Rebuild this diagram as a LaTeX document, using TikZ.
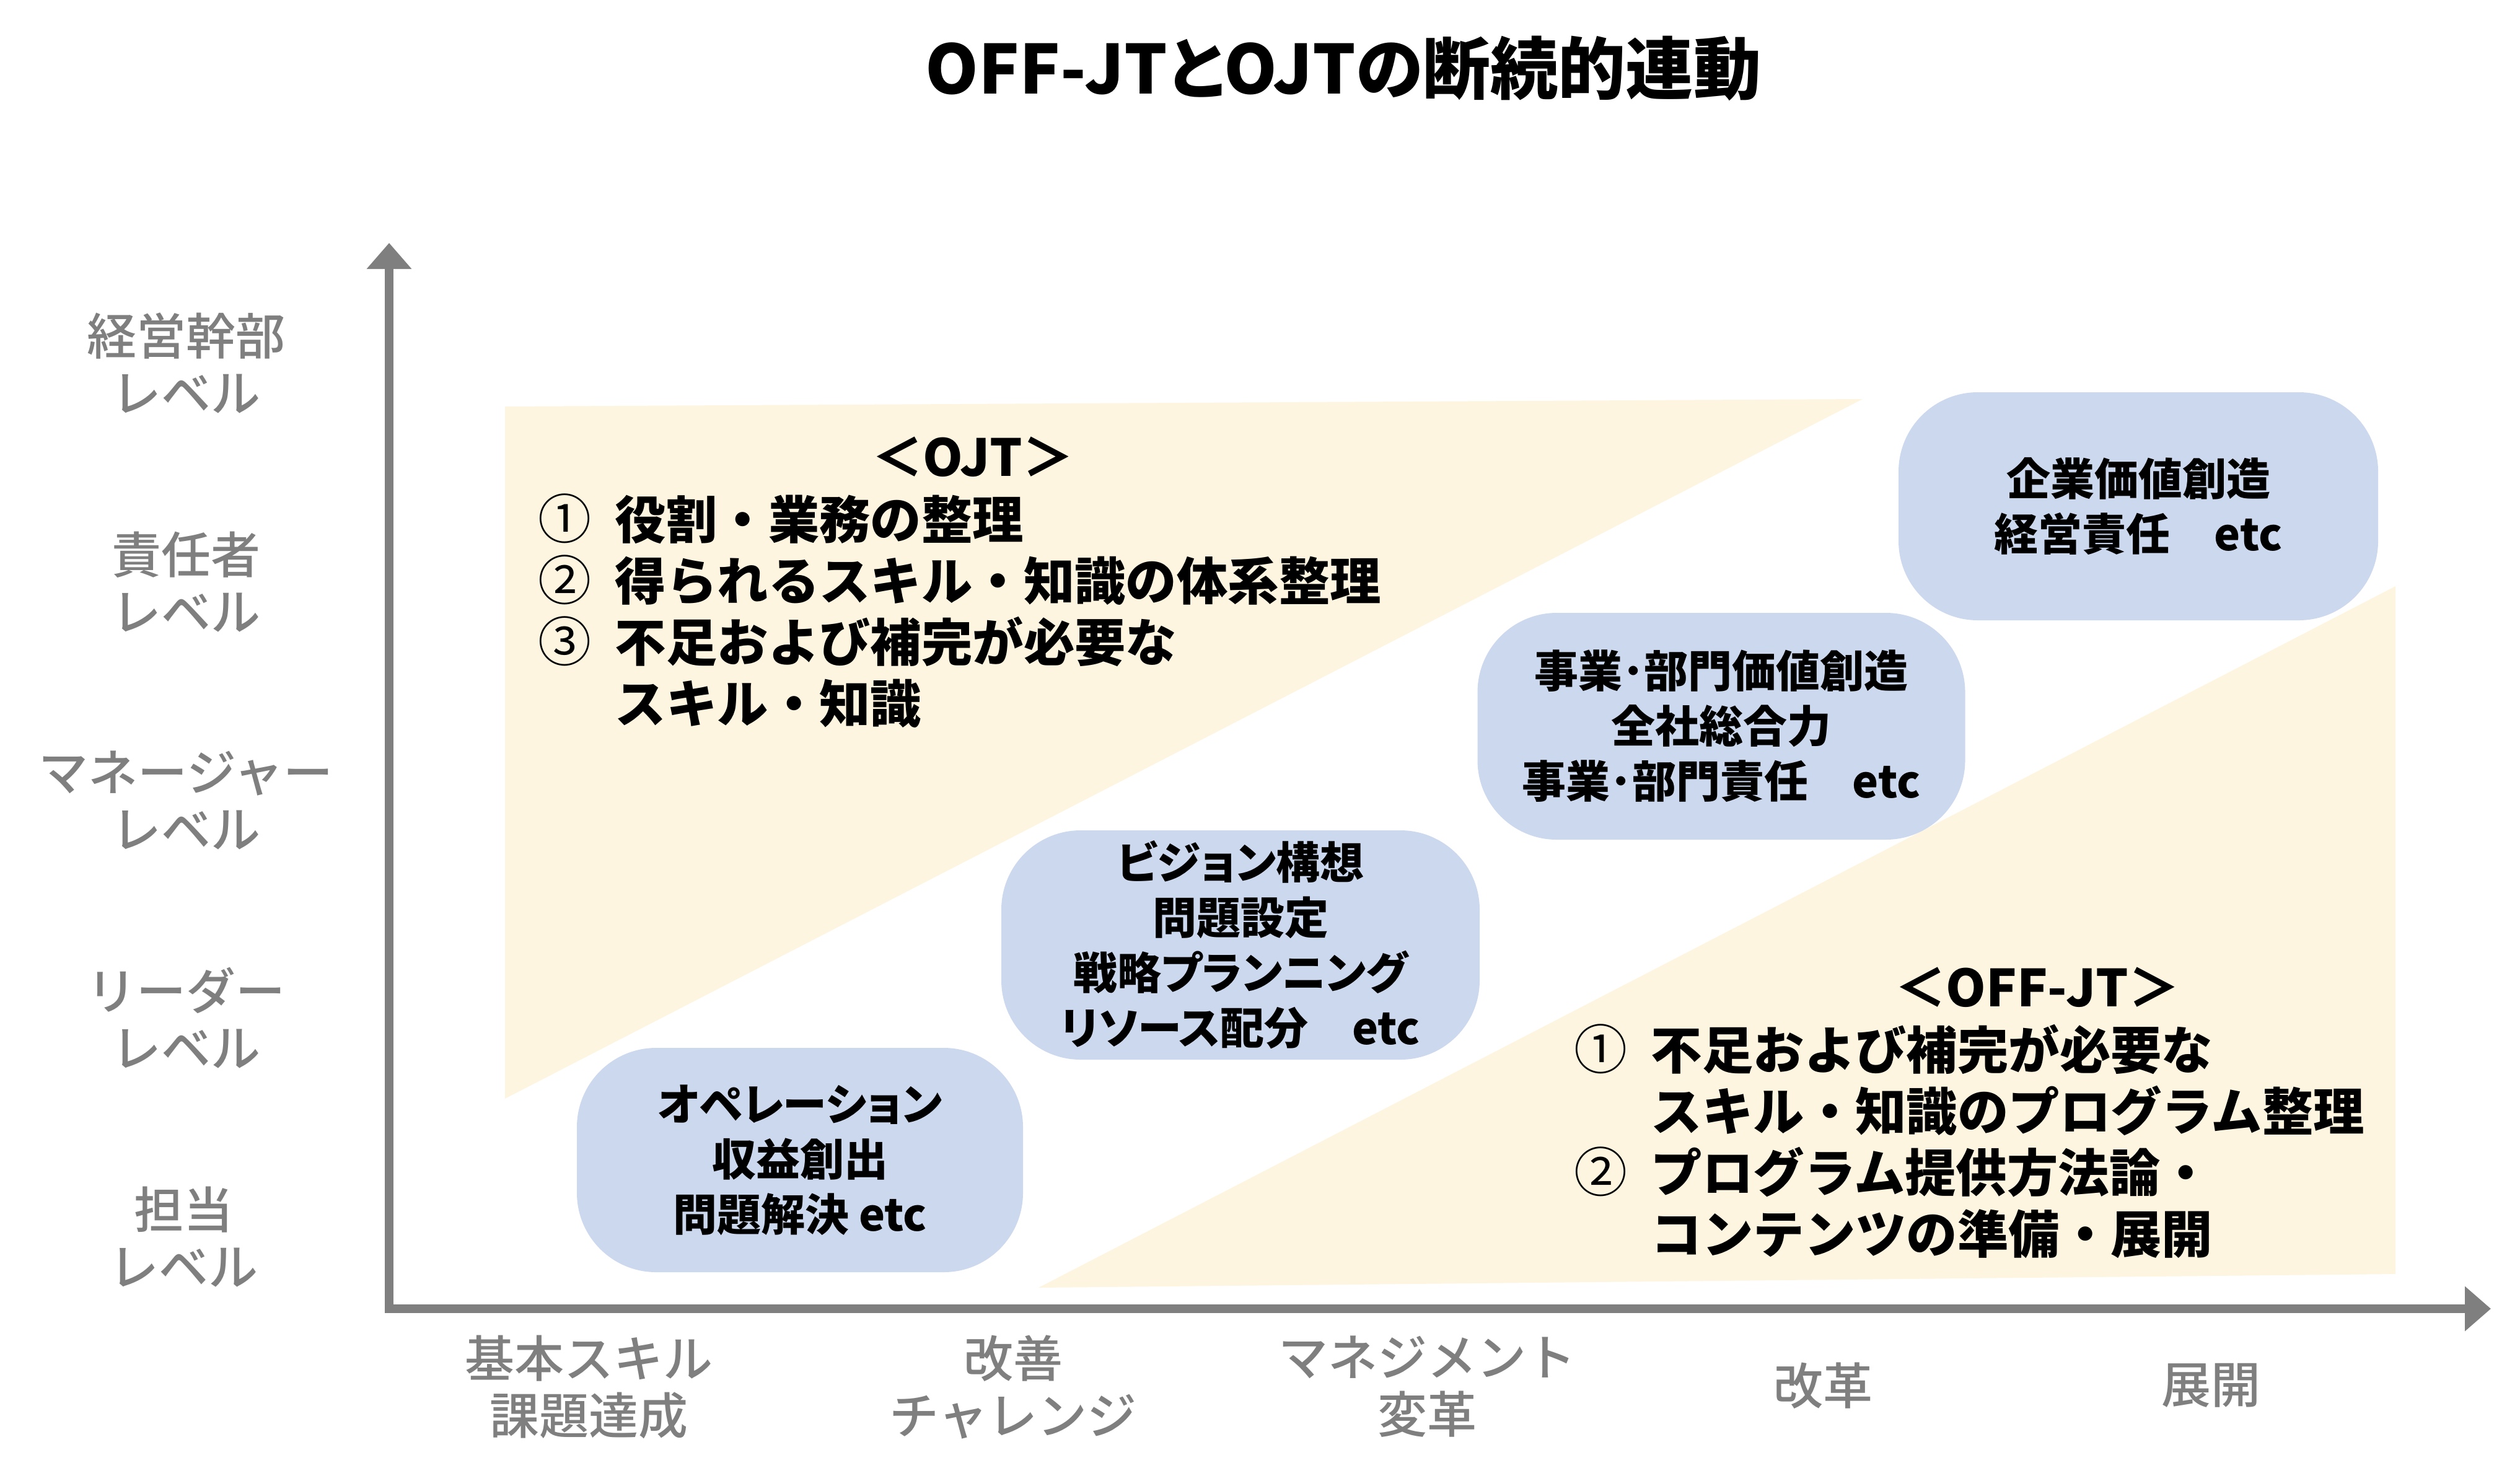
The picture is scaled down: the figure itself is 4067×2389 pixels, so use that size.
\documentclass[tikz,border=0pt]{standalone}
\usepackage{fontspec}
\setmainfont{Noto Sans CJK JP}
\newfontfamily\jpp{Noto Sans CJK JP}[RawFeature=+palt]
\newfontfamily\jpm{Noto Sans CJK JP Medium}
\usetikzlibrary{arrows.meta}
\definecolor{axisgray}{HTML}{7F7F7F}
\definecolor{cream}{HTML}{FEF5E0}
\definecolor{boxblue}{HTML}{CCD8EE}
\newcommand{\cnum}[1]{\makebox[31pt][l]{\mdseries\fontsize{21.5pt}{24.75pt}\selectfont#1}}
\begin{document}
\begin{tikzpicture}[x=0.25pt,y=-0.25pt,
  axis/.style={draw=axisgray,line width=3.5pt,line join=miter,
    {Triangle[length=10.5pt,width=17.5pt]}-{Triangle[length=10.5pt,width=17.5pt]}},
  lvl/.style={text=axisgray,align=center,inner sep=0pt,
    font=\jpm\fontsize{20pt}{23pt}\selectfont},
  zone/.style={fill=cream},
  box/.style={fill=boxblue,rounded corners=32pt,align=center,inner sep=0pt,
    font=\jpp\bfseries\fontsize{17.75pt}{22.25pt}\selectfont},
  head/.style={inner sep=0pt,font=\bfseries\fontsize{20.6pt}{24.75pt}\selectfont},
  list/.style={inner sep=0pt,align=left,anchor=west,
    font=\bfseries\fontsize{20.6pt}{24.75pt}\selectfont},
  ttl/.style={inner sep=0pt,font=\jpp\bfseries\fontsize{27.3pt}{32pt}\selectfont}]
\useasboundingbox (0,0) rectangle (4067,2389);

% title
\node[ttl] (title) at (2168,110) {OFF-JTとOJTの断続的連動};

% background zones
\fill[zone] (815,656) -- (3006,644) -- (815,1773) -- cycle;
\fill[zone] (1676,2078) -- (3866,2056) -- (3866,946) -- cycle;

% axes
\coordinate (O) at (628,2112);
\coordinate (ytip) at (628,392);
\coordinate (xtip) at (4020,2112);
\draw[axis] (ytip) -- (O) -- (xtip);

% level labels
\node[lvl] (l5) at (300,586) {経営幹部\\レベル};
\node[lvl] (l4) at (300,939) {責任者\\レベル};
\node[lvl] (l3) at (300,1291) {マネージャー\\レベル};
\node[lvl] (l2) at (300,1643) {リーダー\\レベル};
\node[lvl] (l1) at (296,1996) {担当\\レベル};

% stage labels
\node[lvl] (s1) at (950,2238) {基本スキル\\課題達成};
\node[lvl] (s2) at (1635,2238) {改善\\チャレンジ};
\node[lvl] (s3) at (2303,2238) {マネジメント\\変革};
\node[lvl] (s4) at (2942,2236) {改革};
\node[lvl] (s5) at (3568,2236) {展開};

% boxes
\node[box,minimum width=180pt,minimum height=90.5pt] (b1) at (1291,1872)
  {オペレーション\\収益創出\\問題解決 etc};
\node[box,minimum width=193pt,minimum height=92.5pt] (b2) at (2002,1525)
  {ビジョン構想\\問題設定\\戦略プランニング\\リソース配分　etc};
\node[box,minimum width=196.75pt,minimum height=91.5pt] (b3) at (2778,1172)
  {事業･部門価値創造\\全社総合力\\事業･部門責任　etc};
\node[box,minimum width=193.5pt,minimum height=92pt] (b4) at (3451,817)
  {企業価値創造\\経営責任　etc};

% OJT text
\node[head] (ojthead) at (1570,737) {＜OJT＞};
\node[list] (ojtlist) at (868,986)
  {\cnum{①}役割・業務の整理\\
   \cnum{②}得られるスキル・知識の体系整理\\
   \cnum{③}不足および補完が必要な\\
   \hspace*{31pt}スキル・知識};

% OFF-JT text
\node[head] (offhead) at (3288,1593) {＜OFF-JT＞};
\node[list] (offlist) at (2540,1842)
  {\cnum{①}不足および補完が必要な\\
   \hspace*{31pt}スキル・知識のプログラム整理\\
   \cnum{②}プログラム提供方法論・\\
   \hspace*{31pt}コンテンツの準備・展開};
\end{tikzpicture}
\end{document}
